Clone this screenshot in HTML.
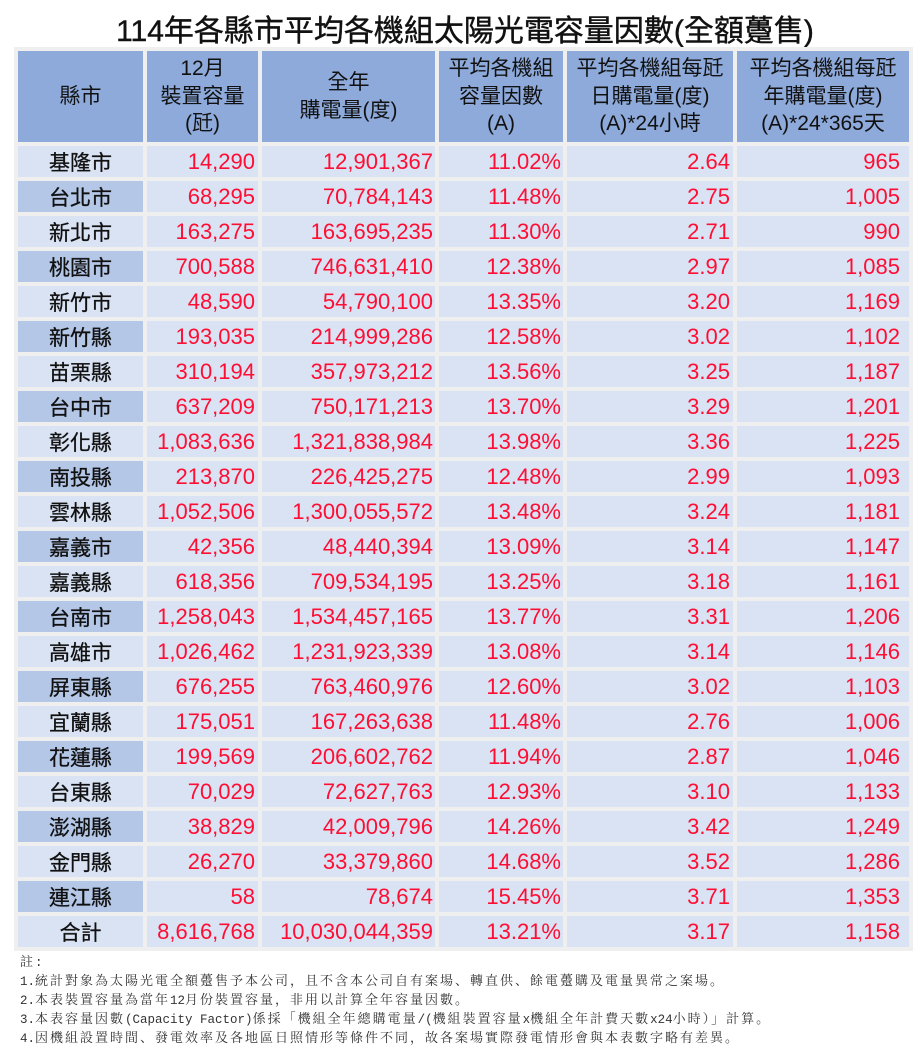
<!DOCTYPE html>
<html>
<head>
<meta charset="utf-8">
<style>
*{margin:0;padding:0;box-sizing:border-box;}
html,body{width:919px;height:1058px;background:#fff;overflow:hidden;}
body{position:relative;font-family:"Liberation Sans","Noto Sans CJK TC",sans-serif;}
.title{position:absolute;left:0;top:16px;width:930px;text-align:center;font-size:30px;line-height:32px;font-weight:normal;color:#111;-webkit-text-stroke:0.4px #111;}
.grid{position:absolute;left:14px;top:47px;display:grid;grid-template-columns:125px 111px 173px 124px 166px 172px;grid-template-rows:91px repeat(23,31px);gap:4px;padding:4px;background:#efefef;}
.grid>div{display:flex;align-items:center;}
.h{background:#8eaadb;justify-content:center;text-align:center;font-size:21px;line-height:27.5px;color:#111;flex-direction:column;}
.c{background:#dae3f3;justify-content:center;font-size:21px;color:#111;font-family:"Noto Sans CJK TC","Liberation Sans",sans-serif;-webkit-text-stroke:0.3px #111;}
.c.d{background:#b4c7e7;}
.n{background:#dae3f3;justify-content:flex-end;font-size:22px;color:#ff0d33;}
.p2{padding-right:3px;}
.p3{padding-right:2px;}
.p4{padding-right:2px;}
.p5{padding-right:3px;}
.p6{padding-right:9px;}
.notes{position:absolute;left:20px;top:951px;font-family:"Noto Serif CJK SC","Noto Serif CJK TC",serif;font-size:13px;letter-spacing:2px;color:#333;white-space:nowrap;}
.notes div{height:19px;line-height:19px;overflow:visible;}
.notes .m{font-family:"Liberation Mono",monospace;font-size:12.5px;letter-spacing:0;line-height:1;}
</style>
</head>
<body>
<div class="title">114年各縣市平均各機組太陽光電容量因數(全額躉售)</div>
<div class="grid">
<div class="h"><span>縣市</span></div>
<div class="h"><span>12月</span><span>裝置容量</span><span>(瓩)</span></div>
<div class="h"><span>全年</span><span>購電量(度)</span></div>
<div class="h"><span>平均各機組</span><span>容量因數</span><span>(A)</span></div>
<div class="h"><span>平均各機組每瓩</span><span>日購電量(度)</span><span>(A)*24小時</span></div>
<div class="h"><span>平均各機組每瓩</span><span>年購電量(度)</span><span>(A)*24*365天</span></div>

<div class="c">基隆市</div><div class="n p2">14,290</div><div class="n p3">12,901,367</div><div class="n p4">11.02%</div><div class="n p5">2.64</div><div class="n p6">965</div>
<div class="c d">台北市</div><div class="n p2">68,295</div><div class="n p3">70,784,143</div><div class="n p4">11.48%</div><div class="n p5">2.75</div><div class="n p6">1,005</div>
<div class="c">新北市</div><div class="n p2">163,275</div><div class="n p3">163,695,235</div><div class="n p4">11.30%</div><div class="n p5">2.71</div><div class="n p6">990</div>
<div class="c d">桃園市</div><div class="n p2">700,588</div><div class="n p3">746,631,410</div><div class="n p4">12.38%</div><div class="n p5">2.97</div><div class="n p6">1,085</div>
<div class="c">新竹市</div><div class="n p2">48,590</div><div class="n p3">54,790,100</div><div class="n p4">13.35%</div><div class="n p5">3.20</div><div class="n p6">1,169</div>
<div class="c d">新竹縣</div><div class="n p2">193,035</div><div class="n p3">214,999,286</div><div class="n p4">12.58%</div><div class="n p5">3.02</div><div class="n p6">1,102</div>
<div class="c">苗栗縣</div><div class="n p2">310,194</div><div class="n p3">357,973,212</div><div class="n p4">13.56%</div><div class="n p5">3.25</div><div class="n p6">1,187</div>
<div class="c d">台中市</div><div class="n p2">637,209</div><div class="n p3">750,171,213</div><div class="n p4">13.70%</div><div class="n p5">3.29</div><div class="n p6">1,201</div>
<div class="c">彰化縣</div><div class="n p2">1,083,636</div><div class="n p3">1,321,838,984</div><div class="n p4">13.98%</div><div class="n p5">3.36</div><div class="n p6">1,225</div>
<div class="c d">南投縣</div><div class="n p2">213,870</div><div class="n p3">226,425,275</div><div class="n p4">12.48%</div><div class="n p5">2.99</div><div class="n p6">1,093</div>
<div class="c">雲林縣</div><div class="n p2">1,052,506</div><div class="n p3">1,300,055,572</div><div class="n p4">13.48%</div><div class="n p5">3.24</div><div class="n p6">1,181</div>
<div class="c d">嘉義市</div><div class="n p2">42,356</div><div class="n p3">48,440,394</div><div class="n p4">13.09%</div><div class="n p5">3.14</div><div class="n p6">1,147</div>
<div class="c">嘉義縣</div><div class="n p2">618,356</div><div class="n p3">709,534,195</div><div class="n p4">13.25%</div><div class="n p5">3.18</div><div class="n p6">1,161</div>
<div class="c d">台南市</div><div class="n p2">1,258,043</div><div class="n p3">1,534,457,165</div><div class="n p4">13.77%</div><div class="n p5">3.31</div><div class="n p6">1,206</div>
<div class="c">高雄市</div><div class="n p2">1,026,462</div><div class="n p3">1,231,923,339</div><div class="n p4">13.08%</div><div class="n p5">3.14</div><div class="n p6">1,146</div>
<div class="c d">屏東縣</div><div class="n p2">676,255</div><div class="n p3">763,460,976</div><div class="n p4">12.60%</div><div class="n p5">3.02</div><div class="n p6">1,103</div>
<div class="c">宜蘭縣</div><div class="n p2">175,051</div><div class="n p3">167,263,638</div><div class="n p4">11.48%</div><div class="n p5">2.76</div><div class="n p6">1,006</div>
<div class="c d">花蓮縣</div><div class="n p2">199,569</div><div class="n p3">206,602,762</div><div class="n p4">11.94%</div><div class="n p5">2.87</div><div class="n p6">1,046</div>
<div class="c">台東縣</div><div class="n p2">70,029</div><div class="n p3">72,627,763</div><div class="n p4">12.93%</div><div class="n p5">3.10</div><div class="n p6">1,133</div>
<div class="c d">澎湖縣</div><div class="n p2">38,829</div><div class="n p3">42,009,796</div><div class="n p4">14.26%</div><div class="n p5">3.42</div><div class="n p6">1,249</div>
<div class="c">金門縣</div><div class="n p2">26,270</div><div class="n p3">33,379,860</div><div class="n p4">14.68%</div><div class="n p5">3.52</div><div class="n p6">1,286</div>
<div class="c d">連江縣</div><div class="n p2">58</div><div class="n p3">78,674</div><div class="n p4">15.45%</div><div class="n p5">3.71</div><div class="n p6">1,353</div>
<div class="c">合計</div><div class="n p2">8,616,768</div><div class="n p3">10,030,044,359</div><div class="n p4">13.21%</div><div class="n p5">3.17</div><div class="n p6">1,158</div>
</div>
<div class="notes">
<div>註<span class="m">:</span></div>
<div><span class="m">1.</span>統計對象為太陽光電全額躉售予本公司，且不含本公司自有案場、轉直供、餘電躉購及電量異常之案場。</div>
<div><span class="m">2.</span>本表裝置容量為當年<span class="m">12</span>月份裝置容量，非用以計算全年容量因數。</div>
<div><span class="m">3.</span>本表容量因數<span class="m">(Capacity Factor)</span>係採「機組全年總購電量<span class="m">/(</span>機組裝置容量<span class="m">x</span>機組全年計費天數<span class="m">x24</span>小時）」計算。</div>
<div><span class="m">4.</span>因機組設置時間、發電效率及各地區日照情形等條件不同，故各案場實際發電情形會與本表數字略有差異。</div>
</div>
</body>
</html>
